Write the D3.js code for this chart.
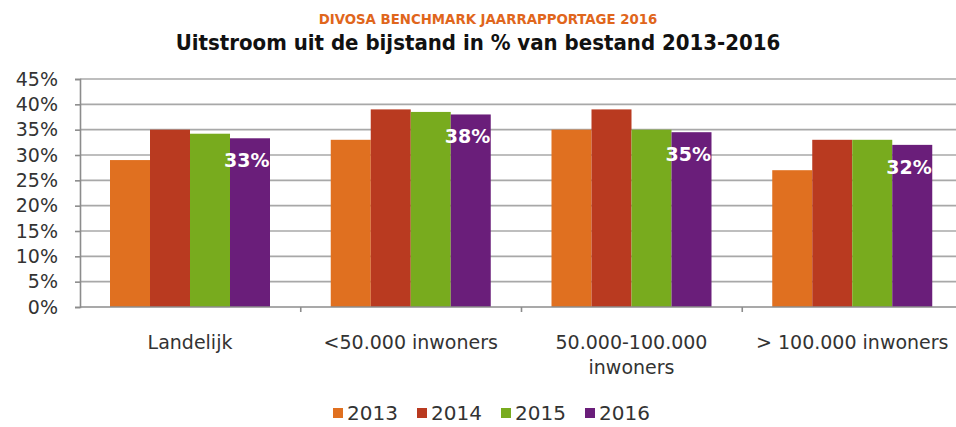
<!DOCTYPE html>
<html>
<head>
<meta charset="utf-8">
<script src="https://cdn.jsdelivr.net/npm/d3@7"></script>
<style>
  body { margin: 0; background: #fff; }
  svg { display: block; }
</style>
</head>
<body>
<div id="chart"></div>
<script>
const categories = [['Landelijk'], ['<50.000 inwoners'], ['50.000-100.000', 'inwoners'], ['> 100.000 inwoners']];
const years = ['2013', '2014', '2015', '2016'];
const values2013 = [29, 33, 35, 27];
const values2014 = [35, 39, 39, 33];
const values2015 = [34.2, 38.5, 35, 33];
const values2016 = [33.3, 38, 34.5, 32];
const labels2016 = ['33%', '38%', '35%', '32%'];
const yTicks = [0, 5, 10, 15, 20, 25, 30, 35, 40, 45];
const colours = ['#e07020', '#b93a20', '#78ab1e', '#6a1e7a'];

function drawChart() {
  const width = 956, height = 427;
  const series = [values2013, values2014, values2015, values2016];
  const data = categories.map((c, i) => ({
    key: i,
    vals: series.map((s, j) => ({ year: years[j], j: j, v: s[i] }))
  }));

  const svg = d3.select('#chart').append('svg')
    .attr('width', width).attr('height', height);

  svg.append('text')
    .attr('x', 488).attr('y', 24)
    .attr('text-anchor', 'middle')
    .style('font-family', 'DejaVu Sans Condensed, DejaVu Sans')
    .style('font-weight', 'bold').style('font-size', '14.8px')
    .style('fill', '#e0661c')
    .text('DIVOSA BENCHMARK JAARRAPPORTAGE 2016');

  svg.append('text')
    .attr('x', 478).attr('y', 50)
    .attr('text-anchor', 'middle')
    .style('font-family', 'DejaVu Sans Condensed, DejaVu Sans')
    .style('font-weight', 'bold').style('font-size', '22px')
    .style('fill', '#111')
    .text('Uitstroom uit de bijstand in % van bestand 2013-2016');

  const left = 80, right = 963, top = 79, bottom = 307;

  const y = d3.scaleLinear().domain([0, 45]).range([bottom, top]);
  const x0 = d3.scaleBand().domain(data.map(d => d.key)).range([left, right]);
  const x1 = d3.scaleBand().domain(years).range([30, 190]);

  // gridlines
  svg.append('g').selectAll('line')
    .data(yTicks.slice(1))
    .join('line')
    .attr('x1', left).attr('x2', width)
    .attr('y1', d => y(d)).attr('y2', d => y(d))
    .style('stroke', '#a8a8a8').style('stroke-width', 1.6);

  // bars
  const groups = svg.append('g').selectAll('g')
    .data(data).join('g')
    .attr('transform', d => `translate(${x0(d.key)},0)`);

  groups.selectAll('rect')
    .data(d => d.vals).join('rect')
    .attr('x', d => x1(d.year))
    .attr('y', d => y(d.v))
    .attr('width', x1.bandwidth())
    .attr('height', d => y(0) - y(d.v))
    .style('fill', d => colours[d.j]);

  // 2016 labels, clipped at right edge of bar
  const defs = svg.append('defs');
  data.forEach((d, i) => {
    defs.append('clipPath').attr('id', 'clip' + i)
      .append('rect')
      .attr('x', x0(d.key) + x1('2016') - 20)
      .attr('y', 0)
      .attr('width', x1.bandwidth() + 20)
      .attr('height', height);
  });
  svg.append('g').selectAll('text')
    .data(data).join('text')
    .attr('clip-path', (d, i) => `url(#clip${i})`)
    .attr('x', d => x0(d.key) + x1('2016') - 6)
    .attr('y', d => y(d.vals[3].v) + 29)
    .style('font-family', 'DejaVu Sans')
    .style('font-weight', 'bold').style('font-size', '19px')
    .style('fill', '#fff')
    .text((d, i) => labels2016[i]);

  // axes
  const yAxis = d3.axisLeft(y).tickValues(yTicks).tickSize(5).tickFormat(d => d + '%');
  const gy = svg.append('g').attr('transform', `translate(${left},0)`).call(yAxis);
  gy.select('.domain').style('stroke', '#8c8c8c').style('stroke-width', 1.6);
  gy.selectAll('.tick line').style('stroke', '#8c8c8c').style('stroke-width', 1.6);
  gy.selectAll('.tick text')
    .attr('x', -22)
    .style('font-family', 'DejaVu Sans').style('font-size', '19px').style('fill', '#333');

  // x axis line and ticks
  svg.append('line')
    .attr('x1', left).attr('x2', width)
    .attr('y1', bottom).attr('y2', bottom)
    .style('stroke', '#8c8c8c').style('stroke-width', 1.6);
  svg.append('g').selectAll('line')
    .data(data.slice(1)).join('line')
    .attr('x1', d => x0(d.key)).attr('x2', d => x0(d.key))
    .attr('y1', bottom).attr('y2', bottom + 5)
    .style('stroke', '#8c8c8c').style('stroke-width', 1.6);

  svg.append('g').selectAll('text')
    .data(data).join('text')
    .attr('text-anchor', 'middle')
    .attr('x', d => x0(d.key) + 110)
    .attr('y', 349)
    .style('font-family', 'DejaVu Sans').style('font-size', '19px').style('fill', '#333')
    .each(function(d, i) {
      d3.select(this).selectAll('tspan')
        .data(categories[i]).join('tspan')
        .attr('x', x0(d.key) + 110)
        .attr('dy', (t, k) => k === 0 ? 0 : 25)
        .text(t => t);
    });

  // legend
  const legendX = d3.scaleBand().domain(years).range([333, 669]);
  const lg = svg.append('g').selectAll('g')
    .data(years).join('g')
    .attr('transform', d => `translate(${legendX(d)},0)`);
  lg.append('rect')
    .attr('x', 0).attr('y', 408).attr('width', 10).attr('height', 10)
    .style('fill', (d, i) => colours[i]);
  lg.append('text')
    .attr('x', 14).attr('y', 420)
    .style('font-family', 'DejaVu Sans').style('font-size', '20px').style('fill', '#333')
    .text(d => d);
}

window.onload = function () {
  drawChart();
};
</script>
</body>
</html>
